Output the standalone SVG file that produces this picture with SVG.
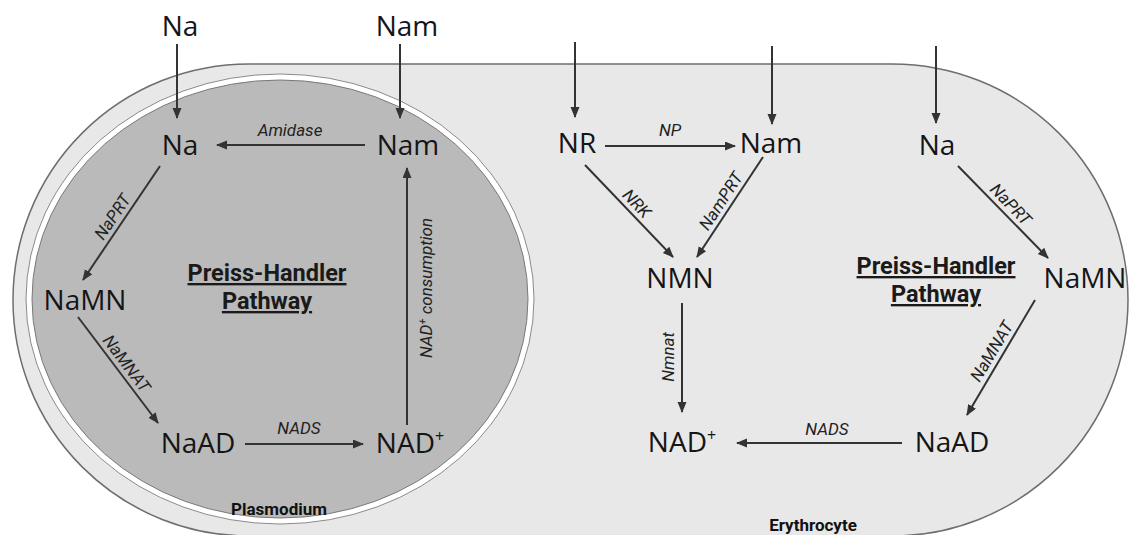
<svg xmlns="http://www.w3.org/2000/svg" width="1130" height="535" viewBox="0 0 1130 535">
<defs>
<style>
.node{font-family:"Open Sans","Roboto","Liberation Sans",sans-serif;font-size:28px;fill:#151515;text-anchor:middle}
.sup{font-size:16px}
.elab{font-family:"Roboto","Liberation Sans",sans-serif;font-style:italic;font-size:17px;fill:#222;text-anchor:middle}
.title{font-family:"Roboto","Liberation Sans",sans-serif;font-weight:bold;font-size:23.5px;fill:#1a1a1a;text-anchor:middle;text-decoration:underline}
.cell{font-family:"Roboto","Liberation Sans",sans-serif;font-weight:bold;font-size:17px;fill:#111;text-anchor:middle}
.edge{stroke:#333;stroke-width:2;fill:none;marker-end:url(#ah)}
</style>
<marker id="ah" markerUnits="userSpaceOnUse" markerWidth="12" markerHeight="10" refX="10" refY="4.5" orient="auto">
<path d="M0,0 L11,4.5 L0,9 Z" fill="#333"/>
</marker>
</defs>
<rect width="1130" height="535" fill="#ffffff"/>
<g id="erythrocyte">
<rect x="13" y="64" width="1115" height="472" rx="236" ry="236" fill="#e8e8e8" stroke="#6e6e6e" stroke-width="1.5"/>
<text class="cell" x="813" y="531">Erythrocyte</text>
</g>
<g id="plasmodium">
<ellipse cx="280" cy="299" rx="254" ry="225" fill="#ffffff" stroke="#8a8a8a" stroke-width="1"/>
<ellipse cx="280" cy="299" rx="248" ry="219" fill="#bababa" stroke="#7a7a7a" stroke-width="1"/>
<text class="cell" x="279" y="515">Plasmodium</text>
</g>
<g id="connectors">
<line class="edge" x1="177" y1="44" x2="177" y2="118"/>
<line class="edge" x1="400" y1="44" x2="400" y2="118"/>
<line class="edge" x1="365" y1="145" x2="217" y2="145"/>
<line class="edge" x1="160" y1="166" x2="83" y2="280"/>
<line class="edge" x1="78" y1="317" x2="158" y2="423"/>
<line class="edge" x1="245" y1="444" x2="363" y2="444"/>
<line class="edge" x1="407" y1="425" x2="407" y2="168"/>
<line class="edge" x1="575" y1="42" x2="575" y2="117"/>
<line class="edge" x1="772" y1="46" x2="772" y2="124"/>
<line class="edge" x1="936" y1="46" x2="936" y2="123"/>
<line class="edge" x1="605" y1="146" x2="735" y2="146"/>
<line class="edge" x1="585" y1="165" x2="673" y2="257"/>
<line class="edge" x1="763" y1="157" x2="697" y2="257"/>
<line class="edge" x1="682" y1="303" x2="682" y2="412"/>
<line class="edge" x1="902" y1="443" x2="737" y2="443"/>
<line class="edge" x1="958" y1="166" x2="1048" y2="258"/>
<line class="edge" x1="1035" y1="300" x2="967" y2="415"/>
<text class="elab" x="290" y="136">Amidase</text>
<text class="elab" transform="translate(121.5,223) rotate(-56)" y="-5">NaPRT</text>
<text class="elab" transform="translate(118,370) rotate(53)" y="-5">NaMNAT</text>
<text class="elab" x="299" y="434">NADS</text>
<text class="elab" transform="translate(432,288) rotate(-90)">NAD<tspan font-size="11" dy="-6">+</tspan><tspan dy="6"> consumption</tspan></text>
<text class="elab" x="670" y="136">NP</text>
<text class="elab" transform="translate(629,211) rotate(46)" y="-5">NRK</text>
<text class="elab" transform="translate(730,207) rotate(-57)" y="-5">NamPRT</text>
<text class="elab" transform="translate(674,357) rotate(-90)">Nmnat</text>
<text class="elab" x="827" y="435">NADS</text>
<text class="elab" transform="translate(1003,212) rotate(46)" y="-5">NaPRT</text>
<text class="elab" transform="translate(1001,357) rotate(-59)" y="-5">NaMNAT</text>
</g>
<g id="title-left"><text class="title" x="267" y="281">Preiss-Handler</text><text class="title" x="267" y="309">Pathway</text></g>
<g id="title-right"><text class="title" x="936" y="274">Preiss-Handler</text><text class="title" x="936" y="302">Pathway</text></g>
<g id="n-na-top"><text class="node" x="180" y="36">Na</text></g>
<g id="n-nam-top"><text class="node" x="407" y="36">Nam</text></g>
<g id="n-na-p"><text class="node" x="180" y="155">Na</text></g>
<g id="n-nam-p"><text class="node" x="408" y="155">Nam</text></g>
<g id="n-namn-p"><text class="node" x="85" y="310">NaMN</text></g>
<g id="n-naad-p"><text class="node" x="198" y="453">NaAD</text></g>
<g id="n-nad-p"><text class="node" x="410" y="453">NAD<tspan class="sup" dy="-11">+</tspan></text></g>
<g id="n-nr"><text class="node" x="577" y="153">NR</text></g>
<g id="n-nam-e"><text class="node" x="771" y="153">Nam</text></g>
<g id="n-na-e"><text class="node" x="937" y="155">Na</text></g>
<g id="n-nmn"><text class="node" x="680" y="288">NMN</text></g>
<g id="n-namn-e"><text class="node" x="1085" y="288">NaMN</text></g>
<g id="n-nad-e"><text class="node" x="682" y="452">NAD<tspan class="sup" dy="-11">+</tspan></text></g>
<g id="n-naad-e"><text class="node" x="952" y="452">NaAD</text></g>
</svg>
